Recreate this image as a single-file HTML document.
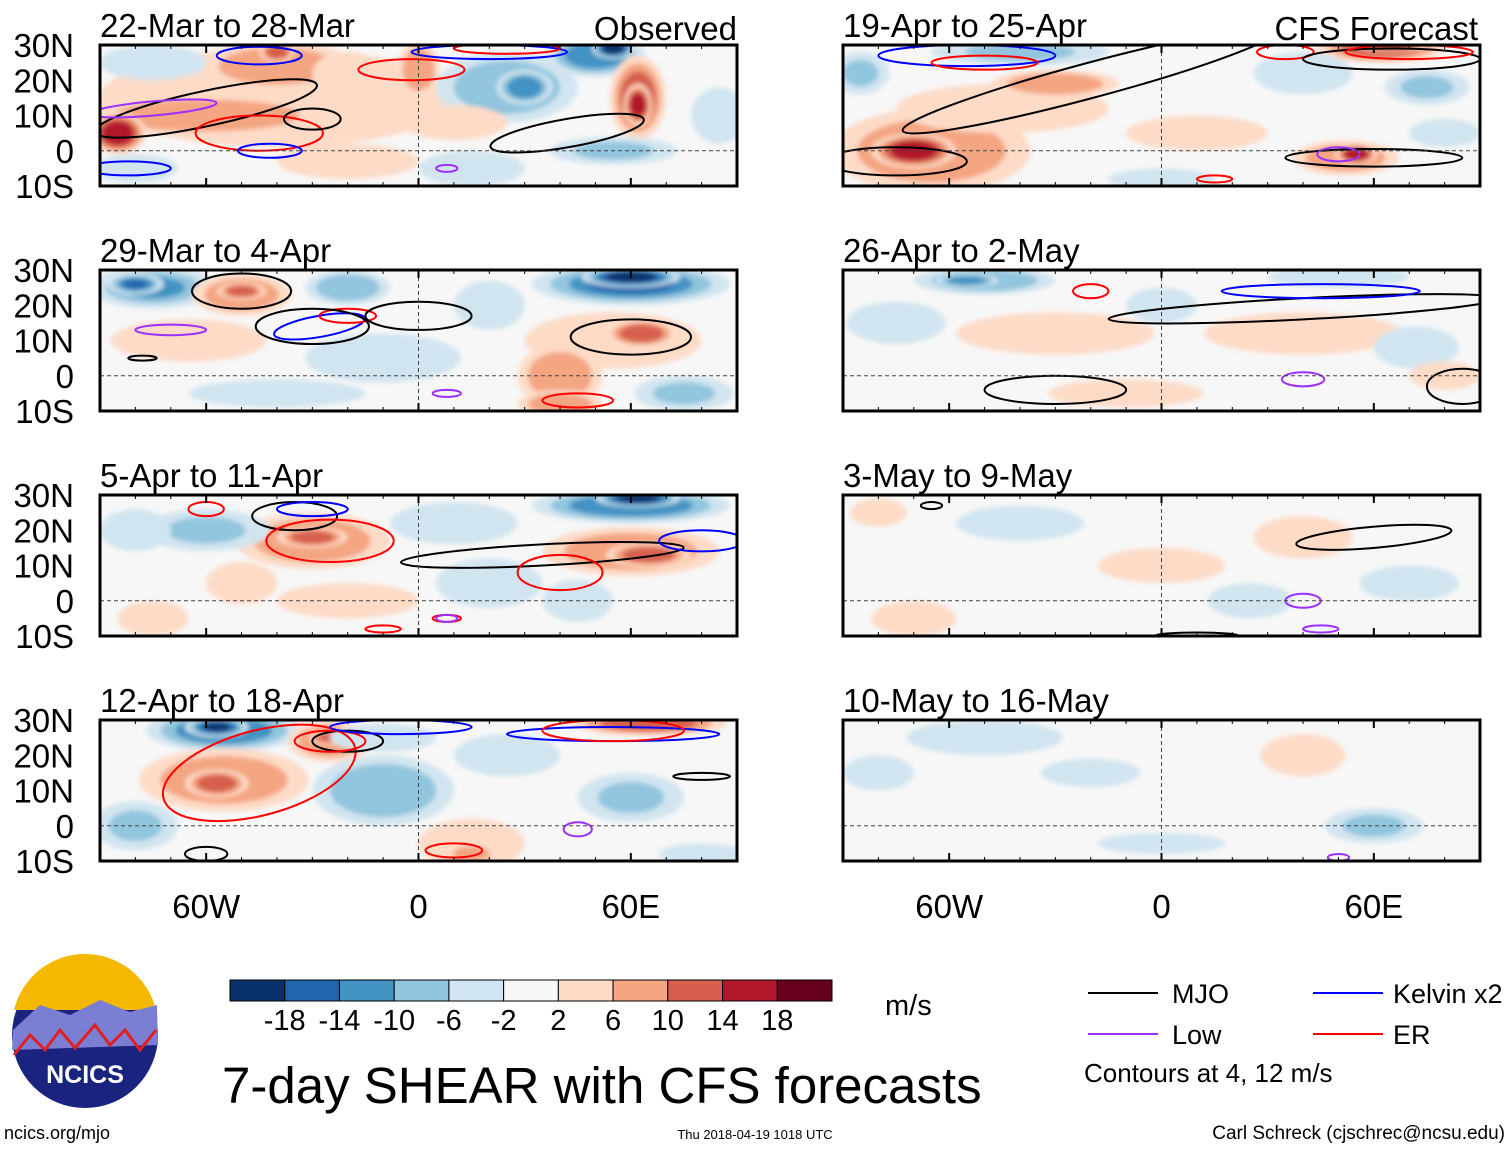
<!DOCTYPE html>
<html><head><meta charset="utf-8">
<style>
body{margin:0;background:#fff;}
svg{display:block;font-family:"Liberation Sans",sans-serif;}
</style></head>
<body>
<svg id="fig" width="1510" height="1149" viewBox="0 0 1510 1149" xmlns="http://www.w3.org/2000/svg">
<defs>
<filter id="blur" x="-30%" y="-30%" width="160%" height="160%"><feGaussianBlur stdDeviation="2.5"/></filter>
<clipPath id="cl0"><rect x="100" y="45" width="637" height="141"/></clipPath>
<clipPath id="cl1"><rect x="100" y="270" width="637" height="141"/></clipPath>
<clipPath id="cl2"><rect x="100" y="495" width="637" height="141"/></clipPath>
<clipPath id="cl3"><rect x="100" y="720" width="637" height="141"/></clipPath>
<clipPath id="cl4"><rect x="843" y="45" width="637" height="141"/></clipPath>
<clipPath id="cl5"><rect x="843" y="270" width="637" height="141"/></clipPath>
<clipPath id="cl6"><rect x="843" y="495" width="637" height="141"/></clipPath>
<clipPath id="cl7"><rect x="843" y="720" width="637" height="141"/></clipPath>
</defs>
<g id="panels"></g>
<g id="colorbar"></g>
<text x="885" y="1015" font-size="29">m/s</text>
<text x="222" y="1103" font-size="51">7-day SHEAR with CFS forecasts</text>
<g font-size="27">
<line x1="1088" y1="993" x2="1158" y2="993" stroke="#000" stroke-width="2"/><text x="1172" y="1003">MJO</text>
<line x1="1313" y1="993" x2="1383" y2="993" stroke="#0000ff" stroke-width="2"/><text x="1393" y="1003">Kelvin x2</text>
<line x1="1088" y1="1034" x2="1158" y2="1034" stroke="#9b30ff" stroke-width="2"/><text x="1172" y="1044">Low</text>
<line x1="1313" y1="1034" x2="1383" y2="1034" stroke="#ff0000" stroke-width="2"/><text x="1393" y="1044">ER</text>
<text x="1084" y="1082" font-size="26">Contours at 4, 12 m/s</text>
</g>
<g>
<circle cx="85" cy="1035" r="73" fill="#1a237e"/>
<path d="M14 1010 A73 73 0 0 1 156 1010 Z" fill="#f5b800"/>
<path d="M13 1030 L40 1005 L70 1015 L100 1000 L130 1012 L157 1005 L158 1045 L12 1050 Z" fill="#7b7fd4"/>
<path d="M14 1055 L30 1035 L45 1050 L60 1030 L75 1048 L95 1025 L110 1045 L125 1030 L140 1050 L156 1030" fill="none" stroke="#e02020" stroke-width="3"/>
<text x="85" y="1083" font-size="25" font-weight="bold" fill="#fff" text-anchor="middle">NCICS</text>
</g>
<text x="4" y="1139" font-size="18">ncics.org/mjo</text>
<text x="755" y="1139" font-size="13" text-anchor="middle">Thu 2018-04-19 1018 UTC</text>
<text x="1505" y="1139" font-size="19" text-anchor="end">Carl Schreck (cjschrec@ncsu.edu)</text>
</svg>
<script>
const levels=[-18,-14,-10,-6,-2,2,6,10,14,18];
const colors=["#08306b","#2166ac","#4393c3","#92c5de","#d1e5f0","#f7f7f7","#fddbc7","#f4a582","#d6604d","#b2182b","#67001f"];
const panelTitles=["22-Mar to 28-Mar","29-Mar to 4-Apr","5-Apr to 11-Apr","12-Apr to 18-Apr","19-Apr to 25-Apr","26-Apr to 2-May","3-May to 9-May","10-May to 16-May"];
const latTicks=["30N","20N","10N","0","10S"];
const latVals=[30,20,10,0,-10];
const lonTicks=["60W","0","60E"];
const lonVals=[-60,0,60];
// blobs: [lon, lat, halfWidthDeg, halfHeightDeg, value]
const blobs0=[[-40,15,50,14,5],[-60,10,35,6,8],[-85,5,8,6,16],[-40,24,22,7,7],[-40,28,5,3,12],[-20,22,10,6,6],[0,23,6,8,10],[25,18,20,10,-7],[30,18,8,5,-12],[50,27,14,6,-12],[55,29,6,3,-20],[62,15,8,12,12],[62,13,4,6,17],[-20,-3,20,5,4],[15,-5,15,5,-5],[-80,-5,12,4,-4],[85,10,8,8,-4],[55,0,18,4,-6],[-75,25,15,5,-3],[10,8,15,5,3]];
const blobs1=[[-75,25,18,6,-10],[-80,26,8,3,-14],[-50,23,14,6,8],[-50,24,7,2.5,13],[-20,25,12,5,-8],[60,26,28,6,-14],[60,28,14,3,-20],[55,10,25,8,6],[63,12,10,4,14],[40,0,12,9,7],[40,-8,12,4,10],[-10,5,22,7,-4],[-65,10,22,6,4],[20,20,10,7,-4],[75,-5,14,5,-6],[-40,-5,25,4,-3]];
const blobs2=[[60,27,28,5,-12],[62,29,12,2.5,-20],[60,14,25,7,7],[65,13,12,3.5,14],[-30,17,22,8,7],[-30,18,10,3,12],[-60,20,18,6,-6],[20,5,15,7,-4],[-75,-5,10,5,6],[10,22,18,6,-4],[-50,5,10,6,4],[45,0,10,6,-5],[-20,0,20,5,3],[-80,20,10,6,-4]];
const blobs3=[[-55,27,22,6,-12],[-57,28,9,3,-18],[-55,13,24,9,8],[-57,12,9,4,12],[-25,24,12,6,8],[-25,25,6,2,12],[65,29,22,3.5,12],[-10,10,20,10,-7],[60,8,15,7,-6],[15,-5,15,7,6],[15,-8,7,3,10],[-80,0,12,7,-6],[25,20,15,6,-4],[80,-8,12,3,-5],[-10,25,15,4,-4]];
const blobs4=[[-65,0,28,12,10],[-70,0,12,5,16],[-45,12,30,7,6],[-30,19,18,4,10],[-40,28,25,4,-6],[-85,22,8,6,-6],[62,29,18,4,12],[65,30,10,2,18],[52,-2,15,5,10],[55,-1,6,3,16],[40,22,14,6,-4],[75,18,12,5,-6],[10,5,20,5,3],[80,5,10,4,-4],[0,-8,15,3,-3]];
const blobs5=[[-50,27,20,4,-8],[-55,27,9,2,-12],[-30,12,28,6,5],[40,12,28,6,6],[72,8,12,6,-5],[-10,-5,22,4,4],[0,20,10,5,-3],[80,0,10,4,5],[-75,15,14,6,-3],[50,28,20,3,-3]];
const blobs6=[[40,18,14,6,4],[0,10,18,5,2.5],[-40,22,18,5,-3],[70,5,14,5,-4],[-70,-5,12,5,3],[25,0,12,5,-3],[-80,25,8,4,3]];
const blobs7=[[-50,25,22,5,-4],[60,0,14,5,-6],[40,20,12,6,3],[-20,15,14,4,-3],[0,-5,18,3,-3],[-80,15,10,5,-3]];
const allBlobs=[blobs0,blobs1,blobs2,blobs3,blobs4,blobs5,blobs6,blobs7];
// contours: [type, lon, lat, halfWidth, halfHeight, rotationDeg]
const cont0=[["mjo",-60,12,32,5,-12],["blue",-45,27,12,2.5,0],["red",-45,5,18,5,0],["mjo",-30,9,8,3,0],["blue",-42,0,9,2,0],["red",-2,23,15,3,0],["blue",20,28,22,2,0],["red",25,29,15,1.5,0],["purple",-75,12,18,2,-5],["mjo",42,5,22,4,-10],["blue",-82,-5,12,2,0],["purple",8,-5,3,1,0]];
const cont1=[["mjo",-50,24,14,5,0],["blue",-28,14,13,3,-10],["red",-20,17,8,2,0],["mjo",-30,14,16,5,0],["mjo",0,17,15,4,0],["mjo",60,11,17,5,0],["red",45,-7,10,2,0],["purple",-70,13,10,1.5,0],["purple",8,-5,4,1,0],["mjo",-78,5,4,0.7,0]];
const cont2=[["mjo",-35,24,12,4,0],["blue",-30,26,10,2,0],["red",-25,17,18,6,0],["red",-60,26,5,2,0],["mjo",35,13,40,3,-3],["red",40,8,12,5,0],["red",8,-5,4,1,0],["purple",8,-5,3,1,0],["blue",80,17,12,3,0],["red",-10,-8,5,1,0]];
const cont3=[["red",-45,15,28,12,-15],["mjo",-20,24,10,3,0],["red",-25,24,10,3,0],["blue",-5,28,20,2,0],["blue",55,26,30,2,0],["red",55,27,20,3,0],["mjo",80,14,8,1,0],["mjo",-60,-8,6,2,0],["red",10,-7,8,2,0],["purple",45,-1,4,2,0]];
const cont4=[["mjo",-20,20,55,5,-15],["blue",-55,27,25,3,0],["red",-50,25,15,2,0],["red",35,28,8,2,0],["mjo",65,26,25,3,0],["red",70,28,18,2,0],["mjo",60,-2,25,2.5,0],["purple",50,-1,6,2,0],["mjo",-75,-3,20,4,0],["red",15,-8,5,1,0]];
const cont5=[["mjo",40,19,55,3,-3],["blue",45,24,28,2,0],["red",-20,24,5,2,0],["mjo",-30,-4,20,4,0],["mjo",85,-3,10,5,0],["purple",40,-1,6,2,0]];
const cont6=[["mjo",60,18,22,3,-5],["purple",40,0,5,2,0],["purple",45,-8,5,1,0],["mjo",-65,27,3,1,0],["mjo",10,-10,12,1,0]];
const cont7=[["purple",50,-9,3,1,0]];
const allCont=[cont0,cont1,cont2,cont3,cont4,cont5,cont6,cont7];
const strokes={mjo:"#000",blue:"#0000ff",red:"#ff0000",purple:"#9b30ff"};

function colorFor(v){let i=0;while(i<levels.length&&v>levels[i])i++;return colors[i];}
const NS="http://www.w3.org/2000/svg";
function mk(tag,attrs,parent){const e=document.createElementNS(NS,tag);for(const k in attrs)e.setAttribute(k,attrs[k]);parent.appendChild(e);return e;}
const root=document.getElementById('panels');
const pw=637,ph=141;
for(let p=0;p<8;p++){
  const col=p<4?0:1,row=p%4;
  const x0=col?843:100,y0=45+row*225;
  const xs=lon=>x0+(lon+90)/180*pw;
  const ys=lat=>y0+(30-lat)/40*ph;
  const g=mk('g',{},root);
  
  
  const t=mk('text',{x:x0,y:y0-8,'font-size':33},g);t.textContent=panelTitles[p];
  
  
  if(p==0){const o=mk('text',{x:x0+pw,y:y0-5,'font-size':33,'text-anchor':'end'},g);o.textContent="Observed";
    }
  if(p==4){const o=mk('text',{x:x0+pw-2,y:y0-5,'font-size':33,'text-anchor':'end'},g);o.textContent="CFS Forecast";
    }
  mk('rect',{x:x0,y:y0,width:pw,height:ph,fill:'#f7f7f7'},g);
  const cg=mk('g',{'clip-path':'url(#cl'+p+')'},g);
  const fg=mk('g',{filter:'url(#blur)'},cg);
  allBlobs[p].forEach(b=>{
    const [lon,lat,rw,rh,v]=b;
    const n=Math.max(1,Math.ceil((Math.abs(v)-2)/4)+1);
    for(let k=0;k<n;k++){
      const lv=Math.sign(v)*Math.min(Math.abs(v),2+4*k+0.1);
      const f=1-k/n*0.75;
      const e=mk('ellipse',{cx:xs(lon),cy:ys(lat),rx:rw*pw/180*f,ry:rh*ph/40*f,fill:colorFor(lv)},fg);
      
      
    }
  });
  allCont[p].forEach(c=>{
    const [tp,lon,lat,rw,rh,rot]=c;
    const e=mk('ellipse',{cx:xs(lon),cy:ys(lat),rx:rw*pw/180,ry:rh*ph/40,fill:'none',stroke:strokes[tp],'stroke-width':2,transform:`rotate(${rot} ${xs(lon)} ${ys(lat)})`},cg);
    
    
  });
  mk('line',{x1:x0,y1:ys(0),x2:x0+pw,y2:ys(0),stroke:'#444','stroke-dasharray':'4,3','stroke-width':1},g);
  mk('line',{x1:xs(0),y1:y0,x2:xs(0),y2:y0+ph,stroke:'#444','stroke-dasharray':'4,3','stroke-width':1},g);
  mk('rect',{x:x0,y:y0,width:pw,height:ph,fill:'none',stroke:'#000','stroke-width':3},g);
  for(let lon=-90;lon<=90;lon+=10){mk('line',{x1:xs(lon),y1:y0,x2:xs(lon),y2:y0+4,stroke:'#000'},g);mk('line',{x1:xs(lon),y1:y0+ph,x2:xs(lon),y2:y0+ph-4,stroke:'#000'},g);}
  lonVals.forEach(l=>{mk('line',{x1:xs(l),y1:y0,x2:xs(l),y2:y0+8,stroke:'#000','stroke-width':2},g);mk('line',{x1:xs(l),y1:y0+ph,x2:xs(l),y2:y0+ph-8,stroke:'#000','stroke-width':2},g);});
  if(col==0){latVals.forEach((l,i)=>{const tt=mk('text',{x:74,y:ys(l)+12,'font-size':33,'text-anchor':'end'},g);tt.textContent=latTicks[i];
    });}
  if(row==3){lonVals.forEach((l,i)=>{const tt=mk('text',{x:xs(l),y:918,'font-size':33,'text-anchor':'middle'},g);tt.textContent=lonTicks[i];
    });}
}
const cb=document.getElementById('colorbar');
const cbw=602/colors.length;
colors.forEach((c,i)=>{const r=mk('rect',{x:230+i*cbw,y:980,width:cbw,height:21,fill:c,stroke:'#000','stroke-width':1},cb);
  });
levels.forEach((l,i)=>{const tt=mk('text',{x:230+(i+1)*cbw,y:1030,'font-size':29,'text-anchor':'middle'},cb);tt.textContent=l;
  });
</script>
</body></html>
